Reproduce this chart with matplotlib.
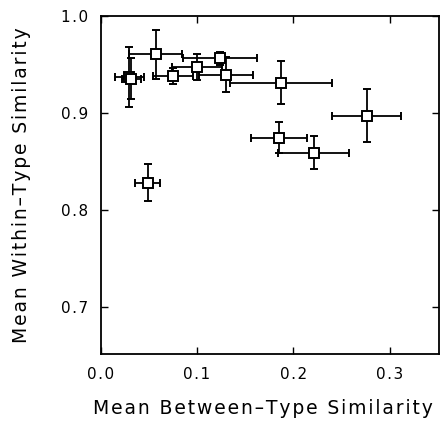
import numpy as np
import matplotlib.pyplot as plt

# mean between-type similarity (x) and within-type similarity (y), with error bars
x_mean = [0.030, 0.032, 0.057, 0.075, 0.100, 0.124, 0.130, 0.187, 0.276, 0.185, 0.221, 0.049]
x_err = [0.015, 0.010, 0.027, 0.021, 0.026, 0.038, 0.028, 0.053, 0.036, 0.029, 0.037, 0.013]
y_mean = [0.937, 0.935, 0.960, 0.938, 0.947, 0.956, 0.939, 0.931, 0.897, 0.874, 0.859, 0.828]
y_err = [0.031, 0.021, 0.025, 0.008, 0.013, 0.007, 0.018, 0.022, 0.027, 0.016, 0.017, 0.019]

x_ticks = [0.0, 0.1, 0.2, 0.3]
y_ticks = [0.7, 0.8, 0.9, 1.0]

x_title = 'Mean Between\u2013Type Similarity'
y_title = 'Mean Within\u2013Type Similarity'

plt.rcParams['font.family'] = ['DejaVu Sans']


def spaced(s):
    # a little extra letter spacing like the original lettering
    return '\u200a'.join(s)


fig = plt.figure(figsize=(4.43, 4.22), dpi=100)
ax = fig.add_axes([0.227, 0.160, 0.764, 0.803])

ax.errorbar(x_mean, y_mean, xerr=x_err, yerr=y_err, fmt='s', color='black',
            mfc='white', mec='black', ms=6.5, mew=1.4, elinewidth=1.3,
            capsize=3, capthick=1.3)

ax.set_xlim(0.0, 0.351)
ax.set_ylim(0.651, 1.0)
ax.set_xticks(x_ticks)
ax.set_yticks(y_ticks)
ax.set_xticklabels([spaced('%.1f' % v) for v in x_ticks])
ax.set_yticklabels([spaced('%.1f' % v) for v in y_ticks])
ax.tick_params(direction='in', top=True, right=True, length=5, width=1,
               labelsize=11, pad=9)
for s in ax.spines.values():
    s.set_linewidth(1.3)

ax.set_xlabel(spaced(x_title), fontsize=13.5)
ax.set_ylabel(spaced(y_title), fontsize=13.5)
ax.xaxis.set_label_coords(0.48, -0.13)
ax.yaxis.set_label_coords(-0.205, 0.5)

fig.savefig('out.png', dpi=100)
